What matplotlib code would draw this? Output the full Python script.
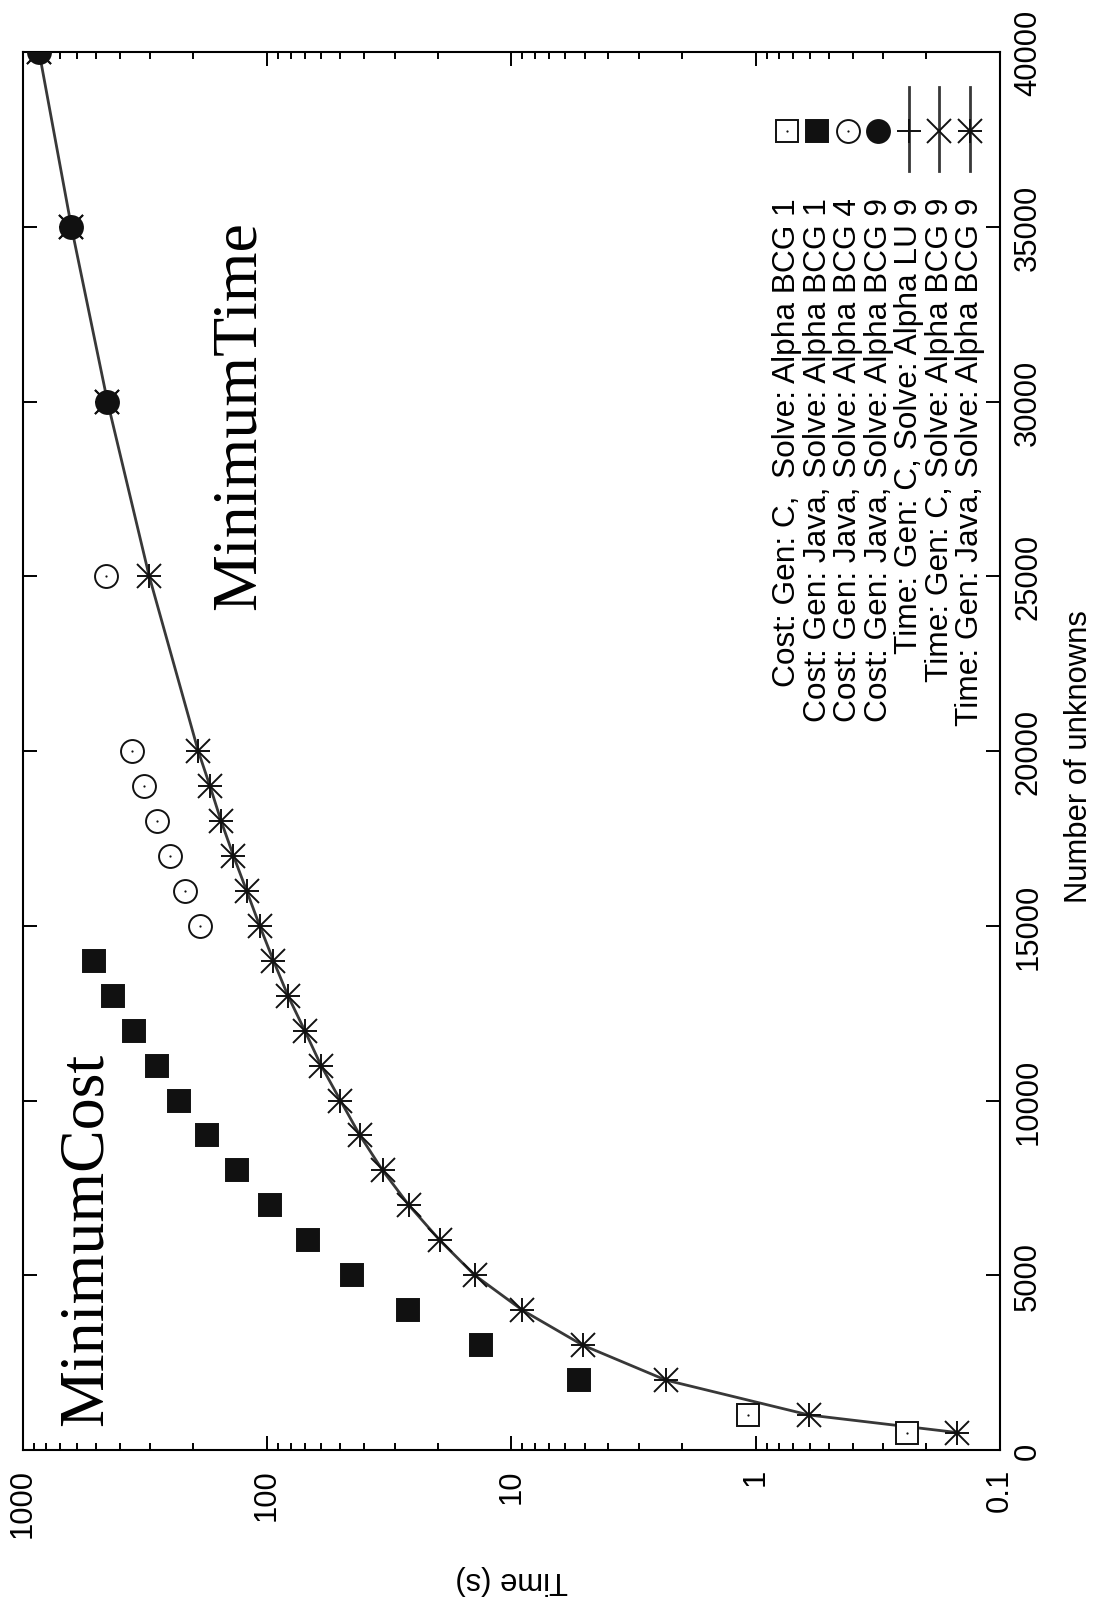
import matplotlib
matplotlib.use('Agg')
import matplotlib.pyplot as plt
from matplotlib.ticker import FixedLocator, FixedFormatter, LogLocator, NullFormatter

plt.rcParams['font.family'] = ['Liberation Sans', 'DejaVu Sans']

# === 数据 ===
# Cost: Gen: C, Solve: Alpha BCG 1
n_cost_c_bcg1 = [500, 1000]
t_cost_c_bcg1 = [0.241, 1.07]

# Cost: Gen: Java, Solve: Alpha BCG 1
n_cost_java_bcg1 = [2000, 3000, 4000, 5000, 6000, 7000, 8000, 9000, 10000,
                    11000, 12000, 13000, 14000]
t_cost_java_bcg1 = [5.28, 13.3, 26.4, 45, 68, 97, 133, 175, 228, 282, 349, 427, 508]

# Cost: Gen: Java, Solve: Alpha BCG 4
n_cost_java_bcg4 = [15000, 16000, 17000, 18000, 19000, 20000, 25000]
t_cost_java_bcg4 = [188, 216, 248, 282, 317, 357, 457]

# Cost: Gen: Java, Solve: Alpha BCG 9
n_cost_java_bcg9 = [30000, 35000, 40000]
t_cost_java_bcg9 = [449, 631, 855]

# Time: Gen: C, Solve: Alpha LU 9  /  Time: Gen: C, Solve: Alpha BCG 9
n_time_c = [30000, 35000, 40000]
t_time_c_lu9 = [449, 631, 855]
t_time_c_bcg9 = [449, 631, 855]

# Time: Gen: Java, Solve: Alpha BCG 9
n_time_java = [500, 1000, 2000, 3000, 4000, 5000, 6000, 7000, 8000, 9000, 10000,
               11000, 12000, 13000, 14000, 15000, 16000, 17000, 18000, 19000, 20000,
               25000, 30000, 35000, 40000]
t_time_java = [0.150, 0.603, 2.33, 5.1, 9.0, 14.1, 19.6, 26.2, 33.6, 41.6, 50,
               60, 70, 82, 94, 107, 121, 137, 154, 171, 191,
               303, 449, 631, 855]

legend_labels = [
    'Cost: Gen: C,  Solve: Alpha BCG 1',
    'Cost: Gen: Java, Solve: Alpha BCG 1',
    'Cost: Gen: Java, Solve: Alpha BCG 4',
    'Cost: Gen: Java, Solve: Alpha BCG 9',
    'Time: Gen: C, Solve: Alpha LU 9',
    'Time: Gen: C, Solve: Alpha BCG 9',
    'Time: Gen: Java, Solve: Alpha BCG 9',
]

time_ticks = [1000, 100, 10, 1, 0.1]
time_labels = ['1000', '100', '10', '1', '0.1']
n_ticks = [0, 5000, 10000, 15000, 20000, 25000, 30000, 35000, 40000]
n_labels = [str(v) for v in n_ticks]

# === 样式 ===
line_col = '#383838'
ink = '#111111'
ms = 17
mew = 1.4

open_sq = dict(marker='s', ms=16.5, mfc='white', mec=ink, mew=mew, ls='none')
fill_sq = dict(marker='s', ms=16.5, mfc=ink, mec=ink, mew=mew, ls='none')
open_ci = dict(marker='o', ms=16.5, mfc='white', mec=ink, mew=mew, ls='none')
fill_ci = dict(marker='o', ms=16.5, mfc=ink, mec=ink, mew=mew, ls='none')
dot = dict(marker='o', ms=1.6, mfc=ink, mec=ink, mew=0, ls='none')
plus = dict(marker='+', ms=ms, mec=ink, mew=mew, ls='none')
cross = dict(marker='x', ms=ms, mec=ink, mew=mew, ls='none')

fig = plt.figure(figsize=(10.93, 16.08), dpi=100)
ax = fig.add_axes([22.5 / 1093, 157 / 1608, 977.5 / 1093, 1398 / 1608])

# 连线（时间曲线）
ax.plot(t_time_java, n_time_java, color=line_col, lw=2.0, zorder=2)

# 成本点
ax.plot(t_cost_c_bcg1, n_cost_c_bcg1, zorder=3, **open_sq)
ax.plot(t_cost_c_bcg1, n_cost_c_bcg1, zorder=4, **dot)
ax.plot(t_cost_java_bcg1, n_cost_java_bcg1, zorder=3, **fill_sq)
ax.plot(t_cost_java_bcg4, n_cost_java_bcg4, zorder=3, **open_ci)
ax.plot(t_cost_java_bcg4, n_cost_java_bcg4, zorder=4, **dot)
ax.plot(t_cost_java_bcg9, n_cost_java_bcg9, zorder=3, **fill_ci)

# 时间点
ax.plot(t_time_c_lu9, n_time_c, zorder=5, **plus)
ax.plot(t_time_c_bcg9, n_time_c, zorder=5, **cross)
ax.plot(t_time_java, n_time_java, zorder=5, **plus)
ax.plot(t_time_java, n_time_java, zorder=5, **cross)

# 坐标轴
ax.set_xscale('log')
ax.set_xlim(1000, 0.1)
ax.set_ylim(0, 40000)
ax.xaxis.set_major_locator(FixedLocator(time_ticks))
ax.xaxis.set_major_formatter(FixedFormatter(time_labels))
ax.xaxis.set_minor_locator(LogLocator(base=10, subs=range(2, 10)))
ax.xaxis.set_minor_formatter(NullFormatter())
ax.yaxis.set_major_locator(FixedLocator(n_ticks))
ax.yaxis.set_major_formatter(FixedFormatter(n_labels))

for s in ax.spines.values():
    s.set_linewidth(1.5)
ax.tick_params(which='both', direction='in', top=True, bottom=True, left=True,
               right=True, labelleft=False, labelright=True, width=1.4,
               labelsize=22.3)
ax.tick_params(which='major', length=10)
ax.tick_params(which='minor', length=5)
ax.tick_params(axis='x', labelrotation=90, pad=13)
ax.tick_params(axis='y', labelrotation=90, pad=9.5)
plt.setp(ax.get_yticklabels(), va='center')

ax.set_xlabel('Time (s)', fontsize=22.3, rotation=180, va='center')
ax.xaxis.set_label_coords(0.5, -0.0923)
ax.text(1.0895, 0.4964, 'Number of unknowns', transform=ax.transAxes,
        fontsize=22.3, rotation=90, rotation_mode='anchor',
        ha='center', va='baseline')

# 标注文字
ax.text(473, 6050, 'MinimumCost', family='Liberation Serif', fontsize=46,
        rotation=90, rotation_mode='anchor', ha='center', va='baseline')
ax.text(112, 29640, 'MinimumTime', family='Liberation Serif', fontsize=46,
        rotation=90, rotation_mode='anchor', ha='center', va='baseline')

# === 图例（旋转的） ===
leg_styles = [
    [open_sq, dot],
    [fill_sq],
    [open_ci, dot],
    [fill_ci],
    [plus],
    [cross],
    [plus, cross],
]
has_line = [False, False, False, False, True, True, True]
x0, dx = 0.7818, 0.03125
y_mark = 0.9435
for i, label in enumerate(legend_labels):
    xm = x0 + i * dx
    if has_line[i]:
        ax.plot([xm, xm], [0.9149, 0.975], color=line_col, lw=2.0,
                transform=ax.transAxes, clip_on=False, zorder=2)
    for st in leg_styles[i]:
        ax.plot([xm], [y_mark], transform=ax.transAxes, clip_on=False,
                zorder=5, **st)
    ax.text(xm + 0.0085, 0.8963, label, transform=ax.transAxes, fontsize=22.8,
            rotation=90, rotation_mode='anchor', ha='right', va='baseline')

fig.savefig('out.png', dpi=100)
